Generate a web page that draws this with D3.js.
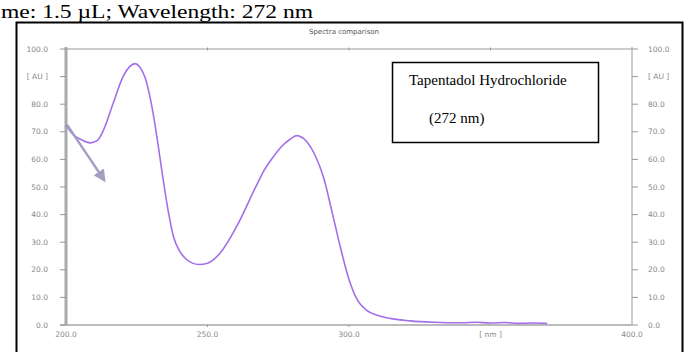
<!DOCTYPE html>
<html>
<head>
<meta charset="utf-8">
<script src="https://cdn.jsdelivr.net/npm/d3@7"></script>
<style>
  body { margin: 0; background: #fff; }
  svg { display: block; }
</style>
</head>
<body>
<div id="chart"></div>
<script>
// wavelength (nm) and absorbance (AU)
const wavelengths = [200, 202, 205.5, 208.5, 211, 213.2, 216.7, 220.2, 222.5, 224.4, 226, 228, 230, 232, 234, 236,
  238, 240, 242, 244.5, 247, 250, 254.4, 260.3, 267.4, 270, 273.3, 276, 279.2, 281.5, 285, 288, 291, 294, 297,
  300, 303, 306, 310, 315, 321.6, 330, 340, 345, 350, 355, 360, 365, 370];
const absorbance = [72.5, 69.5, 67.1, 66.0, 66.8, 70.5, 80.4, 90.1, 93.6, 94.7, 93.6, 89.5, 81, 69, 55, 42,
  32, 27, 24.3, 22.5, 21.9, 22.4, 26.0, 35.7, 50.8, 56, 61.0, 64.5, 67.3, 68.6, 66.5, 61.5, 53.5, 41, 28,
  16.5, 9, 5.5, 3.5, 2.3, 1.5, 1.0, 0.8, 1.0, 0.7, 0.9, 0.6, 0.7, 0.6];
const yTicks = [0, 10, 20, 30, 40, 50, 60, 70, 80, 90, 100];
const xTicks = [200, 250, 300, 350, 400];
const caption = "me: 1.5 \u00b5L; Wavelength: 272 nm";
const chartTitle = "Spectra comparison";
const boxLines = ["Tapentadol Hydrochloride", "(272 nm)"];

const W = 688, H = 352;
const plot = {left: 66, right: 632, top: 49, bottom: 325};

const svg = d3.select("#chart").append("svg")
  .attr("width", W).attr("height", H);

const x = d3.scaleLinear().domain([200, 400]).range([plot.left, plot.right]);
const y = d3.scaleLinear().domain([0, 100]).range([plot.bottom, plot.top]);

// caption above the frame
svg.append("text")
  .attr("x", 1).attr("y", 18)
  .attr("font-family", "Liberation Serif, Times New Roman, serif")
  .attr("font-size", "19px")
  .attr("textLength", 312)
  .attr("lengthAdjust", "spacingAndGlyphs")
  .text(caption);

// outer frame
svg.append("rect")
  .attr("x", 16.5).attr("y", 22.5)
  .attr("width", 666).attr("height", 340)
  .attr("fill", "none").attr("stroke", "#000").attr("stroke-width", 2);

svg.append("text")
  .attr("x", 344).attr("y", 34)
  .attr("text-anchor", "middle")
  .attr("font-family", "DejaVu Sans, sans-serif")
  .attr("font-size", "7px")
  .attr("fill", "#555")
  .text(chartTitle);

const labelStyle = sel => sel
  .attr("font-family", "DejaVu Sans, sans-serif")
  .attr("font-size", "7.5px")
  .attr("fill", "#888");

// top line
svg.append("line")
  .attr("x1", plot.left).attr("x2", plot.right)
  .attr("y1", plot.top).attr("y2", plot.top)
  .attr("stroke", "#999").attr("stroke-width", 1);
svg.selectAll(".topTick").data([250, 300, 350]).enter().append("line")
  .attr("x1", d => x(d)).attr("x2", d => x(d))
  .attr("y1", plot.top - 1.5).attr("y2", plot.top + 1.5)
  .attr("stroke", "#999");

// bottom axis
svg.append("line")
  .attr("x1", plot.left - 6).attr("x2", plot.right)
  .attr("y1", plot.bottom).attr("y2", plot.bottom)
  .attr("stroke", "#bbb").attr("stroke-width", 2);
svg.selectAll(".botTick").data([250, 300]).enter().append("line")
  .attr("x1", d => x(d)).attr("x2", d => x(d))
  .attr("y1", plot.bottom).attr("y2", plot.bottom + 2)
  .attr("stroke", "#999");
svg.selectAll(".xLabel").data(xTicks).enter().append("text")
  .attr("x", d => x(d)).attr("y", 337)
  .attr("text-anchor", "middle")
  .call(labelStyle)
  .text(d => d === 350 ? "[ nm ]" : d3.format(".1f")(d));

// left axis (thick)
svg.append("line")
  .attr("x1", plot.left).attr("x2", plot.left)
  .attr("y1", plot.top - 2).attr("y2", plot.bottom)
  .attr("stroke", "#aaa").attr("stroke-width", 3);
svg.selectAll(".lTick").data(yTicks).enter().append("line")
  .attr("x1", plot.left - 6).attr("x2", plot.left)
  .attr("y1", d => y(d)).attr("y2", d => y(d))
  .attr("stroke", "#999");
svg.selectAll(".lLabel").data(yTicks).enter().append("text")
  .attr("x", 48).attr("y", d => y(d) + 2.5)
  .attr("text-anchor", "end")
  .call(labelStyle)
  .text(d => d === 90 ? "[ AU ]" : d3.format(".1f")(d));

// right axis (thin)
svg.append("line")
  .attr("x1", plot.right).attr("x2", plot.right)
  .attr("y1", plot.top - 2).attr("y2", plot.bottom)
  .attr("stroke", "#aaa").attr("stroke-width", 1.2);
svg.selectAll(".rTick").data(yTicks).enter().append("line")
  .attr("x1", plot.right).attr("x2", plot.right + 6)
  .attr("y1", d => y(d)).attr("y2", d => y(d))
  .attr("stroke", "#999");
svg.selectAll(".rLabel").data(yTicks).enter().append("text")
  .attr("x", 648).attr("y", d => y(d) + 2.5)
  .call(labelStyle)
  .text(d => d === 90 ? "[ AU ]" : d3.format(".1f")(d));

// spectrum
const pts = wavelengths.map((w, i) => [w, absorbance[i]]);
const line = d3.line()
  .x(d => x(d[0])).y(d => y(d[1]))
  .curve(d3.curveMonotoneX);
svg.append("path")
  .datum(pts)
  .attr("d", line)
  .attr("fill", "none")
  .attr("stroke", "#a46ee8")
  .attr("stroke-width", 1.6);

// arrow
svg.append("defs").append("marker")
  .attr("id", "head")
  .attr("viewBox", "0 0 10 10")
  .attr("refX", 8).attr("refY", 5)
  .attr("markerWidth", 5).attr("markerHeight", 5)
  .attr("orient", "auto")
  .append("path").attr("d", "M0,0 L10,5 L0,10 Z").attr("fill", "#a49ec4");
svg.append("line")
  .attr("x1", x(200.4)).attr("y1", y(72.5))
  .attr("x2", x(213.5)).attr("y2", y(52.5))
  .attr("stroke", "#a49ec4").attr("stroke-width", 2.5)
  .attr("marker-end", "url(#head)");

// label box
const box = svg.append("g");
box.append("rect")
  .attr("x", 392.5).attr("y", 62.5)
  .attr("width", 206).attr("height", 80)
  .attr("fill", "#fff").attr("stroke", "#000").attr("stroke-width", 1.5);
box.append("text")
  .attr("x", 409).attr("y", 85)
  .attr("font-family", "Liberation Serif, Times New Roman, serif")
  .attr("font-size", "15px")
  .text(boxLines[0]);
box.append("text")
  .attr("x", 429).attr("y", 123)
  .attr("font-family", "Liberation Serif, Times New Roman, serif")
  .attr("font-size", "15px")
  .text(boxLines[1]);
</script>
</body>
</html>
